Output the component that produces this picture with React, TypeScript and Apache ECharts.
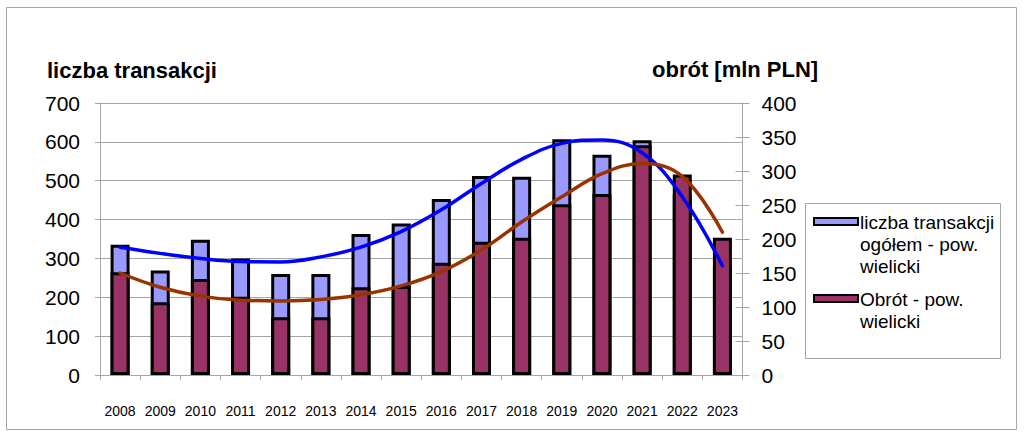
import React, { useEffect, useRef } from "react";
import * as echarts from "echarts";

const years = ["2008", "2009", "2010", "2011", "2012", "2013", "2014", "2015", "2016", "2017", "2018", "2019", "2020", "2021", "2022", "2023"];
const transakcje = [335, 269, 348, 300, 260, 260, 363, 390, 453, 512, 510, 607, 567, 604, 464, 279];
const obrot = [151, 107, 141, 115, 85, 85, 129, 131, 165, 196, 202, 251, 266, 338, 295, 202];
const transakcjeTrend = [329, 313, 300, 292, 291, 304, 329, 369, 425, 493, 555, 596, 605, 572, 459, 281];
const obrotTrend = [150, 129, 116, 110, 109, 111, 118, 131, 152, 184, 225, 262, 296, 311, 292, 210];

const leftTicks = { min: 0, max: 700, interval: 100 };
const rightTicks = { min: 0, max: 400, interval: 50 };

const FONT = '"Liberation Sans", Arial, sans-serif';
const GRID = "#a6a6a6";

export default function App() {
  const ref = useRef<HTMLDivElement>(null);
  useEffect(() => {
    if (!ref.current) return;
    const chart = echarts.init(ref.current, undefined, { renderer: "svg" });
    chart.setOption({
      animation: false,
      textStyle: { fontFamily: FONT },
      grid: { left: 100, right: 281.5, top: 103, bottom: 64, containLabel: false },
      xAxis: {
        type: "category",
        data: years,
        axisLine: { lineStyle: { color: GRID, width: 1 } },
        axisTick: { show: true, length: 5, lineStyle: { color: GRID } },
        axisLabel: { color: "#000", fontSize: 14, margin: 29, interval: 0, hideOverlap: false, fontFamily: FONT },
      },
      yAxis: [
        {
          type: "value",
          position: "left",
          ...leftTicks,
          axisLine: { show: true, lineStyle: { color: GRID } },
          axisTick: { show: true, length: 5, lineStyle: { color: GRID } },
          splitLine: { show: true, lineStyle: { color: GRID, width: 1 } },
          axisLabel: { color: "#000", fontSize: 21, margin: 20, fontFamily: FONT },
        },
        {
          type: "value",
          position: "right",
          ...rightTicks,
          axisLine: { show: true, lineStyle: { color: GRID } },
          axisTick: { show: true, length: 7, lineStyle: { color: GRID } },
          splitLine: { show: false },
          axisLabel: { color: "#000", fontSize: 21, margin: 19, fontFamily: FONT },
        },
        {
          type: "value",
          position: "right",
          ...rightTicks,
          axisLine: { show: false },
          axisTick: { show: true, inside: true, length: 7, lineStyle: { color: GRID } },
          splitLine: { show: false },
          axisLabel: { show: false },
        },
      ],
      series: [
        {
          name: "liczba transakcji ogółem - pow. wielicki",
          type: "bar",
          yAxisIndex: 0,
          data: transakcje,
          barWidth: 19,
          barGap: "-100%",
          itemStyle: { color: "#9999FF", borderColor: "#000", borderWidth: 3 },
        },
        {
          name: "Obrót - pow. wielicki",
          type: "bar",
          yAxisIndex: 1,
          data: obrot,
          barWidth: 19,
          barGap: "-100%",
          itemStyle: { color: "#993366", borderColor: "#000", borderWidth: 3 },
        },
        {
          name: "trend transakcji",
          type: "line",
          yAxisIndex: 0,
          data: transakcjeTrend,
          smooth: 0.4,
          symbol: "none",
          lineStyle: { color: "#0000FF", width: 3.5, cap: "round" },
          z: 5,
        },
        {
          name: "trend obrotu",
          type: "line",
          yAxisIndex: 1,
          data: obrotTrend,
          smooth: 0.4,
          symbol: "none",
          lineStyle: { color: "#993300", width: 3.5, cap: "round" },
          z: 5,
        },
      ],
      graphic: [
        {
          type: "rect",
          z: -10,
          shape: { x: 6.5, y: 7.5, width: 1010, height: 422 },
          style: { fill: "none", stroke: GRID, lineWidth: 1 },
        },
        {
          type: "text",
          x: 47,
          y: 70,
          style: { text: "liczba transakcji", font: `bold 22px ${FONT}`, fill: "#000", textVerticalAlign: "middle" },
        },
        {
          type: "text",
          x: 652,
          y: 69,
          style: { text: "obrót [mln PLN]", font: `bold 22px ${FONT}`, fill: "#000", textVerticalAlign: "middle" },
        },
        {
          type: "rect",
          shape: { x: 805.5, y: 203.5, width: 195, height: 155 },
          style: { fill: "#fff", stroke: GRID, lineWidth: 1 },
        },
        {
          type: "rect",
          shape: { x: 814, y: 218, width: 44, height: 7 },
          style: { fill: "#9999FF", stroke: "#000", lineWidth: 2 },
        },
        {
          type: "text",
          x: 860,
          y: 211,
          style: {
            text: "liczba transakcji\nogółem - pow.\nwielicki",
            font: `19px ${FONT}`,
            lineHeight: 22,
            fill: "#000",
            textVerticalAlign: "top",
          },
        },
        {
          type: "rect",
          shape: { x: 814, y: 295, width: 44, height: 7 },
          style: { fill: "#993366", stroke: "#000", lineWidth: 2 },
        },
        {
          type: "text",
          x: 860,
          y: 288,
          style: {
            text: "Obrót - pow.\nwielicki",
            font: `19px ${FONT}`,
            lineHeight: 22,
            fill: "#000",
            textVerticalAlign: "top",
          },
        },
      ],
    });
    return () => chart.dispose();
  }, []);
  return (
    <div
      ref={ref}
      style={{ position: "fixed", left: 0, top: 0, width: 1024, height: 439, background: "#fff" }}
    />
  );
}
